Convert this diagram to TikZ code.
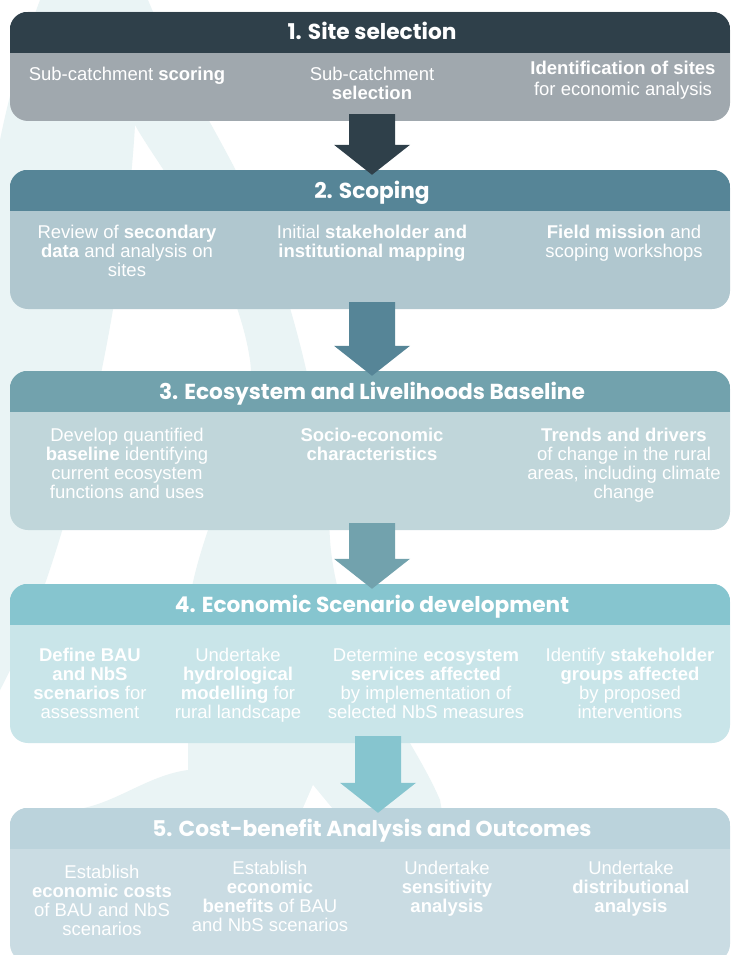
\documentclass[tikz,border=0pt]{standalone}
\usepackage{fontspec}
\setmainfont{Liberation Sans}
\newfontfamily\hfont{Poppins}
\usetikzlibrary{calc}
\definecolor{swoosh}{HTML}{EAF4F5}
\definecolor{hA}{HTML}{2F404A}\definecolor{bA}{HTML}{A0A8AE}
\definecolor{hB}{HTML}{568597}\definecolor{bB}{HTML}{B0C7CF}
\definecolor{hC}{HTML}{72A2AD}\definecolor{bC}{HTML}{C0D6DA}
\definecolor{hD}{HTML}{86C5CF}\definecolor{bD}{HTML}{C9E5E9}
\definecolor{hE}{HTML}{BBD3DC}\definecolor{bE}{HTML}{CADCE3}
\newcommand\flowarrow[4]{%
  \fill[#3] ($(#1.south)+(#4-23,-7)$) -- ($(#1.south)+(#4+23,-7)$)
    -- ($(#2.north)+(#4+23,-25)$) -- ($(#2.north)+(#4+38,-25)$)
    -- ($(#2.north)+(#4,5)$) -- ($(#2.north)+(#4-38,-25)$)
    -- ($(#2.north)+(#4-23,-25)$) -- cycle;}
\newcommand\headband[3]{%
  \begin{scope}
    \clip[rounded corners=18pt] (#1.north west) rectangle (#1.south east);
    \fill[#2] (#1.north west) rectangle ($(#1.north east)+(0,#3)$);
  \end{scope}}
\begin{document}
\begin{tikzpicture}[x=1pt,y=-1pt,
  stagebox/.style={rounded corners=18pt, minimum width=720pt, inner sep=0pt, draw=none},
  bodytext/.style={font=\fontsize{18.5}{18.8}\selectfont, text=white, align=center, anchor=north, inner sep=0pt},
  headtext/.style={font=\hfont\bfseries\fontsize{21.7}{24}\selectfont, text=white, text height=16pt, text depth=1pt, inner sep=0pt}]
\useasboundingbox (0,0) rectangle (731,955);
\clip (0,0) rectangle (731,955);
\fill[white] (0,0) rectangle (731,955);
% background swoosh
\fill[swoosh] (40,0) -- (148,0) .. controls (185,90) and (245,170) .. (275,260)
  .. controls (305,350) and (325,440) .. (330,540)
  .. controls (338,650) and (410,730) .. (440,800) -- (445,830) -- (84,830) -- (84,808)
  .. controls (120,800) and (150,775) .. (188,770) -- (188,620)
  .. controls (190,540) and (260,430) .. (250,360)
  .. controls (235,260) and (160,170) .. (135,125)
  .. controls (125,300) and (70,560) .. (0,690) -- (0,140)
  .. controls (10,90) and (25,40) .. (40,0) -- cycle;
\fill[white] (303,808) -- (313,785) -- (332,808) -- cycle;
% boxes
\node[stagebox, fill=bA, minimum height=109pt] (b1) at (370,66.5) {};
\headband{b1}{hA}{41}
\node[stagebox, fill=bB, minimum height=139pt] (b2) at (370,239.5) {};
\headband{b2}{hB}{41}
\node[stagebox, fill=bC, minimum height=159pt] (b3) at (370,450.5) {};
\headband{b3}{hC}{41}
\node[stagebox, fill=bD, minimum height=159pt] (b4) at (370,663.5) {};
\headband{b4}{hD}{41}
\node[stagebox, fill=bE, minimum height=154pt] (b5) at (370,885) {};
\headband{b5}{hE}{41}
% arrows
\flowarrow{b1}{b2}{hA}{2}
\flowarrow{b2}{b3}{hB}{2}
\flowarrow{b3}{b4}{hC}{2}
\flowarrow{b4}{b5}{hD}{8}
% headers
\node[headtext] (h1) at (372,32.5) {1. Site selection};
\node[headtext] (h2) at (372,190.5) {2. Scoping};
\node[headtext] (h3) at (372,391.5) {3. Ecosystem and Livelihoods Baseline};
\node[headtext] (h4) at (372,604.5) {4. Economic Scenario development};
\node[headtext] (h5) at (372,828.5) {5. Cost-benefit Analysis and Outcomes};
% stage 1
\node[bodytext] (t11) at (127,67) {Sub-catchment \textbf{scoring}};
\node[bodytext] (t12) at (372,67) {Sub-catchment\\\textbf{selection}};
\node[bodytext, font=\fontsize{18.5}{20.5}\selectfont] (t13) at (623,61) {\textbf{Identification of sites}\\for economic analysis};
% stage 2
\node[bodytext] (t21) at (127,225) {Review of \textbf{secondary}\\\textbf{data} and analysis on\\sites};
\node[bodytext] (t22) at (372,225) {Initial \textbf{stakeholder and}\\\textbf{institutional mapping}};
\node[bodytext] (t23) at (624,225) {\textbf{Field mission} and\\scoping workshops};
% stage 3
\node[bodytext] (t31) at (127,428) {Develop quantified\\\textbf{baseline} identifying\\current ecosystem\\functions and uses};
\node[bodytext] (t32) at (372,428) {\textbf{Socio-economic}\\\textbf{characteristics}};
\node[bodytext] (t33) at (624,428) {\textbf{Trends and drivers}\\of change in the rural\\areas, including climate\\change};
% stage 4
\node[bodytext] (t41) at (90,648) {\textbf{Define BAU}\\\textbf{and NbS}\\\textbf{scenarios} for\\assessment};
\node[bodytext] (t42) at (238,648) {Undertake\\\textbf{hydrological}\\\textbf{modelling} for\\rural landscape};
\node[bodytext] (t43) at (426,648) {Determine \textbf{ecosystem}\\\textbf{services affected}\\by implementation of\\selected NbS measures};
\node[bodytext] (t44) at (630,648) {Identify \textbf{stakeholder}\\\textbf{groups affected}\\by proposed\\interventions};
% stage 5
\node[bodytext] (t51) at (102,865) {Establish\\\textbf{economic costs}\\of BAU and NbS\\scenarios};
\node[bodytext] (t52) at (270,861) {Establish\\\textbf{economic}\\\textbf{benefits} of BAU\\and NbS scenarios};
\node[bodytext] (t53) at (447,861) {Undertake\\\textbf{sensitivity}\\\textbf{analysis}};
\node[bodytext] (t54) at (631,861) {Undertake\\\textbf{distributional}\\\textbf{analysis}};
\end{tikzpicture}
\end{document}
